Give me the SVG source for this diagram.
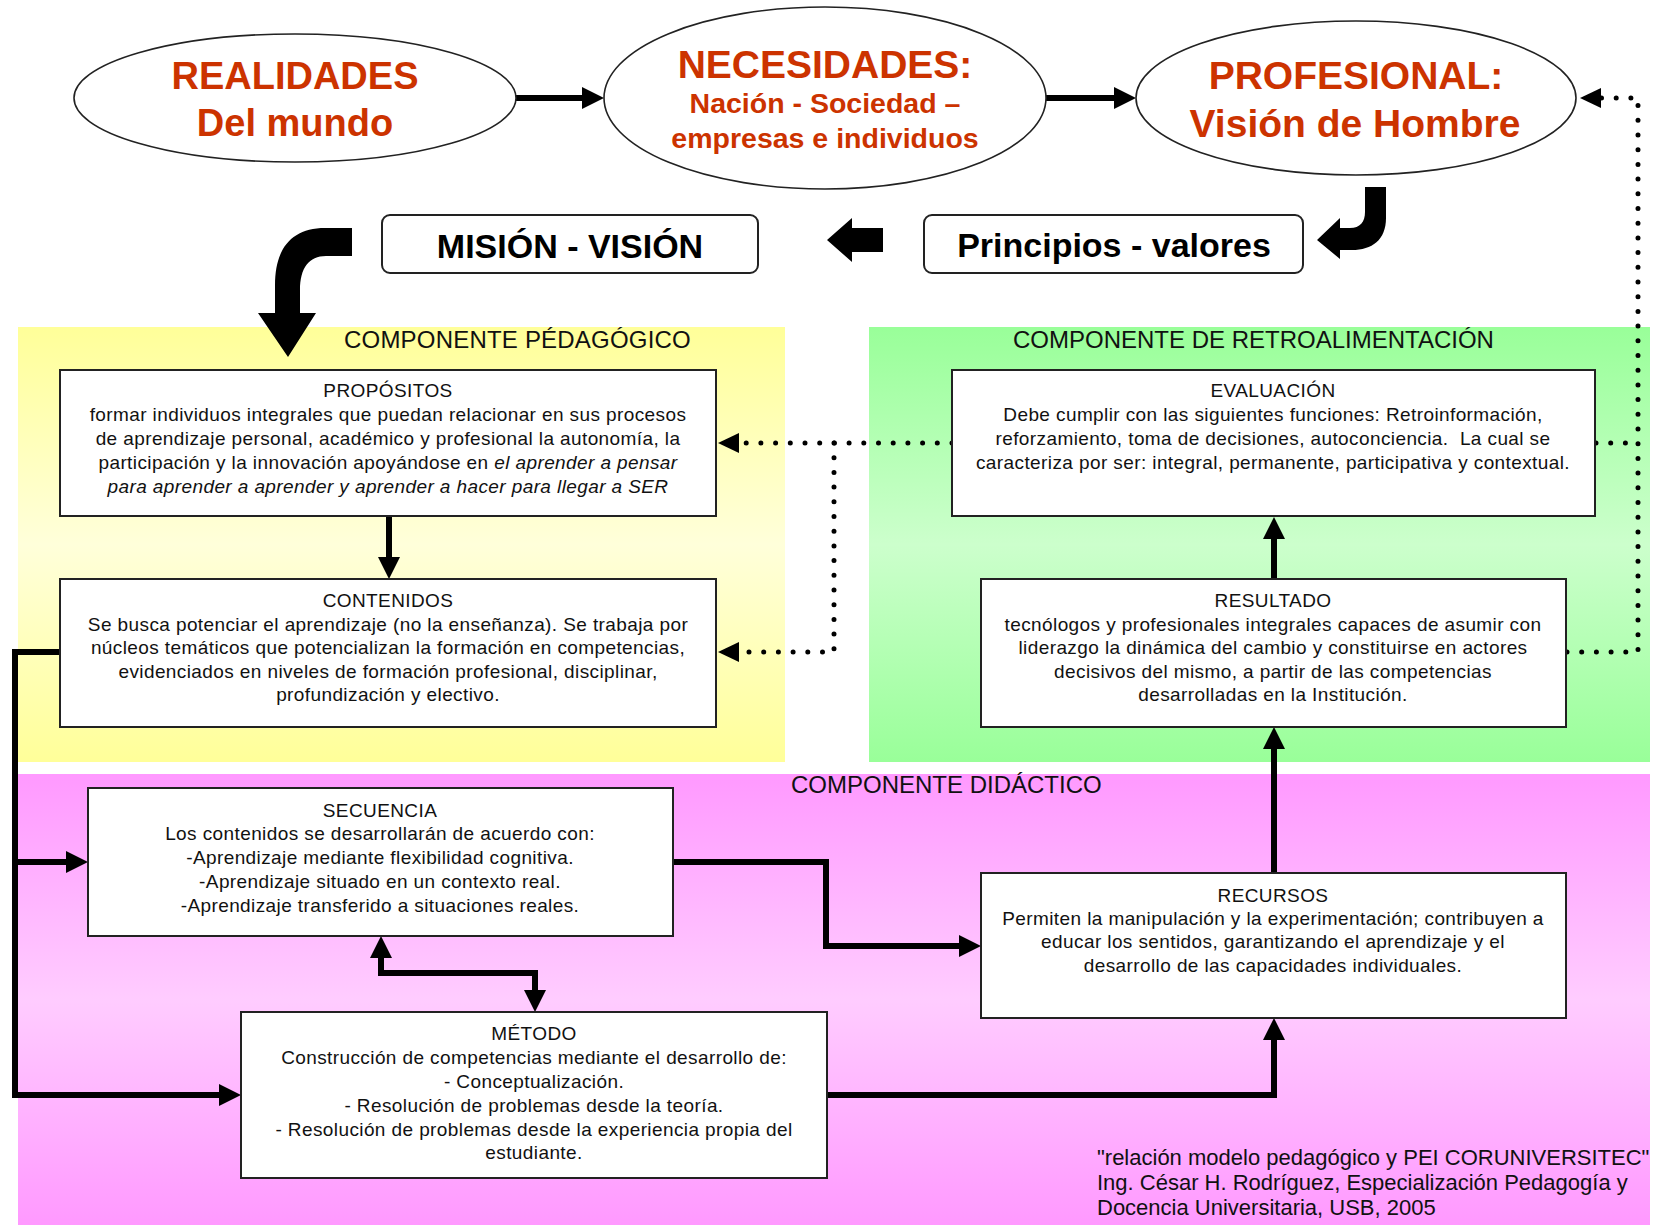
<svg xmlns="http://www.w3.org/2000/svg" width="1658" height="1225" viewBox="0 0 1658 1225">
<style>
  text { font-family: "Liberation Sans", Arial, sans-serif; fill: #111; }
  .big { font-weight: bold; fill: #CC3300; text-anchor: middle; }
  .head { font-weight: bold; font-size: 34px; fill: #000; text-anchor: middle; }
  .panel-title { font-size: 24px; fill: #111; }
  .bt { font-size: 19px; letter-spacing: 0.4px; text-anchor: middle; }
  .note { font-size: 22px; fill: #111; }
  .box { fill: #fff; stroke: #222; stroke-width: 2; }
  .oval { fill: #fff; stroke: #222; stroke-width: 1.6; }
  .thick { fill: none; stroke: #000; stroke-width: 6; stroke-linejoin: miter; }
  .dots { fill: none; stroke: #000; stroke-width: 5; stroke-linecap: round; stroke-dasharray: 0 14.7; }
  .block { fill: #000; }
</style>
<defs>
  <linearGradient id="gY" x1="0" y1="0" x2="0" y2="1">
    <stop offset="0" stop-color="#FFFF99"/>
    <stop offset="0.5" stop-color="#FFFFDA"/>
    <stop offset="1" stop-color="#FFFF99"/>
  </linearGradient>
  <linearGradient id="gG" x1="0" y1="0" x2="0" y2="1">
    <stop offset="0" stop-color="#99FF99"/>
    <stop offset="0.5" stop-color="#CCFFCC"/>
    <stop offset="1" stop-color="#99FF99"/>
  </linearGradient>
  <linearGradient id="gP" x1="0" y1="0" x2="0" y2="1">
    <stop offset="0" stop-color="#FF99FF"/>
    <stop offset="0.5" stop-color="#FFCCFF"/>
    <stop offset="1" stop-color="#FF99FF"/>
  </linearGradient>
  <marker id="ah" markerWidth="22" markerHeight="22" refX="12" refY="11" orient="auto-start-reverse" markerUnits="userSpaceOnUse">
    <path d="M0,0 L22,11 L0,22 Z" fill="#000"/>
  </marker>
  <marker id="dh" markerWidth="22" markerHeight="22" refX="1" refY="10" orient="auto" markerUnits="userSpaceOnUse">
    <path d="M0,0 L21,10 L0,20 Z" fill="#000"/>
  </marker>
</defs>

<rect width="1658" height="1225" fill="#fff"/>

<!-- panels -->
<g id="panel-pedagogico">
  <rect x="18" y="327" width="767" height="435" fill="url(#gY)"/>
  <text class="panel-title" x="344" y="348" letter-spacing="0.2">COMPONENTE PÉDAGÓGICO</text>
</g>
<g id="panel-retro">
  <rect x="869" y="327" width="781" height="435" fill="url(#gG)"/>
  <text class="panel-title" x="1013" y="348">COMPONENTE DE RETROALIMENTACIÓN</text>
</g>
<g id="panel-didactico">
  <rect x="18" y="774" width="1632" height="451" fill="url(#gP)"/>
  <text class="panel-title" x="791" y="793">COMPONENTE DIDÁCTICO</text>
</g>

<!-- connectors -->
<g id="connectors">
  <path class="thick" d="M516,98 L594,98" marker-end="url(#ah)"/>
  <path class="thick" d="M1046,98 L1126,98" marker-end="url(#ah)"/>
  <path class="block" d="M352,228 L325,228 C292,228 275,248 275,285 L275,313 L258,313 L288,357 L316,313 L300,313 L300,290 C300,268 309,256 326,256 L352,256 Z"/>
  <path class="block" d="M1365,187 L1386,187 L1386,218 C1386,240 1372,250 1352,250 L1340,250 L1340,259 L1317,240 L1340,218 L1340,228 L1350,228 C1360,228 1365,222 1365,212 Z"/>
  <polygon class="block" points="883,228 852,228 852,218 827,240 852,262 852,252 883,252"/>
  <path class="thick" d="M389,516 L389,569" stroke-width="5" marker-end="url(#ah)"/>
  <path class="thick" d="M1274,579 L1274,527" marker-end="url(#ah)"/>
  <path class="thick" d="M1274,873 L1274,737" marker-end="url(#ah)"/>
  <path class="thick" d="M60,652 L15,652 L15,1095 L231,1095" marker-end="url(#ah)"/>
  <path class="thick" d="M15,862 L78,862" marker-end="url(#ah)"/>
  <path class="thick" d="M673,862 L826,862 L826,946 L971,946" marker-end="url(#ah)"/>
  <path class="thick" d="M381,946 L381,973 L535,973 L535,1002" marker-start="url(#ah)" marker-end="url(#ah)"/>
  <path class="thick" d="M827,1095 L1274,1095 L1274,1028" marker-end="url(#ah)"/>
  <path class="dots" d="M952,443 L738,443" marker-end="url(#dh)"/>
  <path class="dots" d="M834,443 L834,652 L738,652" marker-end="url(#dh)"/>
  <path class="dots" d="M1596,443 L1638,443"/>
  <path class="dots" d="M1567,652 L1638,652 L1638,98 L1600,98" marker-end="url(#dh)"/>
</g>

<!-- top nodes -->
<g id="realidades">
  <ellipse class="oval" cx="295" cy="98" rx="221" ry="64"/>
  <text class="big" x="295" y="89" font-size="38">REALIDADES</text>
  <text class="big" x="295" y="136" font-size="38">Del mundo</text>
</g>
<g id="necesidades">
  <ellipse class="oval" cx="825" cy="98" rx="221" ry="91"/>
  <text class="big" x="825" y="78" font-size="39">NECESIDADES:</text>
  <text class="big" x="825" y="113" font-size="28.5">Nación - Sociedad –</text>
  <text class="big" x="825" y="148" font-size="28.5">empresas e individuos</text>
</g>
<g id="profesional">
  <ellipse class="oval" cx="1356" cy="98" rx="220" ry="77"/>
  <text class="big" x="1356" y="89" font-size="39">PROFESIONAL:</text>
  <text class="big" x="1355" y="137" font-size="39">Visión de Hombre</text>
</g>
<g id="mision-vision">
  <rect class="box" x="382" y="215" width="376" height="58" rx="8"/>
  <text class="head" x="570" y="258">MISIÓN - VISIÓN</text>
</g>
<g id="principios-valores">
  <rect class="box" x="924" y="215" width="379" height="58" rx="8"/>
  <text class="head" x="1114" y="257">Principios - valores</text>
</g>

<!-- pedagogic component -->
<g id="propositos">
  <rect class="box" x="60" y="370" width="656" height="146"/>
  <text class="bt" x="388" y="397">PROPÓSITOS</text>
  <text class="bt" x="388" y="421">formar individuos integrales que puedan relacionar en sus procesos</text>
  <text class="bt" x="388" y="445">de aprendizaje personal, académico y profesional la autonomía, la</text>
  <text class="bt" x="388" y="469">participación y la innovación apoyándose en <tspan font-style="italic">el aprender a pensar</tspan></text>
  <text class="bt" x="388" y="493" font-style="italic">para aprender a aprender y aprender a hacer para llegar a SER</text>
</g>
<g id="contenidos">
  <rect class="box" x="60" y="579" width="656" height="148"/>
  <text class="bt" x="388" y="607">CONTENIDOS</text>
  <text class="bt" x="388" y="631">Se busca potenciar el aprendizaje (no la enseñanza). Se trabaja por</text>
  <text class="bt" x="388" y="654">núcleos temáticos que potencializan la formación en competencias,</text>
  <text class="bt" x="388" y="678">evidenciados en niveles de formación profesional, disciplinar,</text>
  <text class="bt" x="388" y="701">profundización y electivo.</text>
</g>

<!-- feedback component -->
<g id="evaluacion">
  <rect class="box" x="952" y="370" width="643" height="146"/>
  <text class="bt" x="1273" y="397">EVALUACIÓN</text>
  <text class="bt" x="1273" y="421">Debe cumplir con las siguientes funciones: Retroinformación,</text>
  <text class="bt" x="1273" y="445" xml:space="preserve">reforzamiento, toma de decisiones, autoconciencia.  La cual se</text>
  <text class="bt" x="1273" y="469">caracteriza por ser: integral, permanente, participativa y contextual.</text>
</g>
<g id="resultado">
  <rect class="box" x="981" y="579" width="585" height="148"/>
  <text class="bt" x="1273" y="607">RESULTADO</text>
  <text class="bt" x="1273" y="631">tecnólogos y profesionales integrales capaces de asumir con</text>
  <text class="bt" x="1273" y="654">liderazgo la dinámica del cambio y constituirse en actores</text>
  <text class="bt" x="1273" y="678">decisivos del mismo, a partir de las competencias</text>
  <text class="bt" x="1273" y="701">desarrolladas en la Institución.</text>
</g>

<!-- didactic component -->
<g id="secuencia">
  <rect class="box" x="88" y="788" width="585" height="148"/>
  <text class="bt" x="380" y="817">SECUENCIA</text>
  <text class="bt" x="380" y="840">Los contenidos se desarrollarán de acuerdo con:</text>
  <text class="bt" x="380" y="864">-Aprendizaje mediante flexibilidad cognitiva.</text>
  <text class="bt" x="380" y="888">-Aprendizaje situado en un contexto real.</text>
  <text class="bt" x="380" y="912">-Aprendizaje transferido a situaciones reales.</text>
</g>
<g id="metodo">
  <rect class="box" x="241" y="1012" width="586" height="166"/>
  <text class="bt" x="534" y="1040">MÉTODO</text>
  <text class="bt" x="534" y="1064">Construcción de competencias mediante el desarrollo de:</text>
  <text class="bt" x="534" y="1088">- Conceptualización.</text>
  <text class="bt" x="534" y="1112">- Resolución de problemas desde la teoría.</text>
  <text class="bt" x="534" y="1136">- Resolución de problemas desde la experiencia propia del</text>
  <text class="bt" x="534" y="1159">estudiante.</text>
</g>
<g id="recursos">
  <rect class="box" x="981" y="873" width="585" height="145"/>
  <text class="bt" x="1273" y="902">RECURSOS</text>
  <text class="bt" x="1273" y="925">Permiten la manipulación y la experimentación; contribuyen a</text>
  <text class="bt" x="1273" y="948">educar los sentidos, garantizando el aprendizaje y el</text>
  <text class="bt" x="1273" y="972">desarrollo de las capacidades individuales.</text>
</g>

<g id="credit">
  <text class="note" x="1097" y="1165">"relación modelo pedagógico y PEI CORUNIVERSITEC"</text>
  <text class="note" x="1097" y="1190">Ing. César H. Rodríguez, Especialización Pedagogía y</text>
  <text class="note" x="1097" y="1215">Docencia Universitaria, USB, 2005</text>
</g>
</svg>
